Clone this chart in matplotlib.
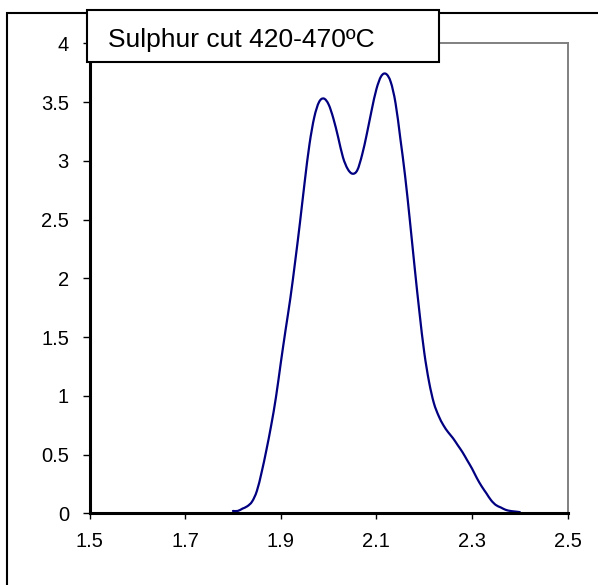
import matplotlib
matplotlib.use("Agg")
import matplotlib.pyplot as plt
from matplotlib.patches import Rectangle, PathPatch
from matplotlib.path import Path

plt.rcParams['font.family'] = ['Liberation Sans', 'DejaVu Sans']

title = "Sulphur cut 420-470ºC"
x_vals = [1.80, 1.81, 1.82, 1.83, 1.84, 1.85, 1.86, 1.87, 1.88, 1.89,
          1.90, 1.91, 1.92, 1.93, 1.94, 1.95, 1.96, 1.97, 1.98, 1.99,
          2.00, 2.01, 2.02, 2.03, 2.04, 2.05, 2.06, 2.07, 2.08, 2.09,
          2.10, 2.11, 2.12, 2.13, 2.14, 2.15, 2.16, 2.17, 2.18, 2.19,
          2.20, 2.21, 2.22, 2.23, 2.24, 2.25, 2.26, 2.27, 2.28, 2.29,
          2.30, 2.31, 2.32, 2.33, 2.34, 2.35, 2.36, 2.37, 2.38, 2.39, 2.40]
y_vals = [0.02, 0.02, 0.04, 0.06, 0.10, 0.19, 0.35, 0.54, 0.75, 0.99,
          1.28, 1.56, 1.83, 2.14, 2.47, 2.82, 3.14, 3.37, 3.50, 3.53,
          3.48, 3.36, 3.20, 3.03, 2.93, 2.89, 2.92, 3.05, 3.23, 3.43,
          3.61, 3.72, 3.74, 3.67, 3.49, 3.19, 2.87, 2.49, 2.09, 1.71,
          1.37, 1.12, 0.94, 0.83, 0.75, 0.69, 0.64, 0.58, 0.52, 0.45,
          0.38, 0.30, 0.23, 0.17, 0.11, 0.07, 0.05, 0.03, 0.02, 0.015, 0.01]
x_ticks = [1.5, 1.7, 1.9, 2.1, 2.3, 2.5]
x_tick_labels = ["1.5", "1.7", "1.9", "2.1", "2.3", "2.5"]
y_ticks = [0, 0.5, 1, 1.5, 2, 2.5, 3, 3.5, 4]
y_tick_labels = ["0", "0.5", "1", "1.5", "2", "2.5", "3", "3.5", "4"]

W, H = 598, 585
fig = plt.figure(figsize=(W / 100, H / 100), dpi=100)
fig.patch.set_facecolor('white')

left, right, top, bottom = 89.5, 567.7, 43.3, 513.3
ax = fig.add_axes([left / W, (H - bottom) / H, (right - left) / W, (bottom - top) / H])


def smooth_path(xs, ys):
    # Excel-style smoothed line: Catmull-Rom through the data points as cubic Beziers
    pts = list(zip(xs, ys))
    n = len(pts)
    verts = [pts[0]]
    codes = [Path.MOVETO]
    for i in range(n - 1):
        p0 = pts[i - 1] if i > 0 else pts[i]
        p1 = pts[i]
        p2 = pts[i + 1]
        p3 = pts[i + 2] if i + 2 < n else pts[i + 1]
        c1 = (p1[0] + (p2[0] - p0[0]) / 6, p1[1] + (p2[1] - p0[1]) / 6)
        c2 = (p2[0] - (p3[0] - p1[0]) / 6, p2[1] - (p3[1] - p1[1]) / 6)
        verts += [c1, c2, p2]
        codes += [Path.CURVE4] * 3
    return Path(verts, codes)


ax.add_patch(PathPatch(smooth_path(x_vals, y_vals), facecolor='none',
                       edgecolor='#000080', lw=1.6, capstyle='round', joinstyle='round'))
ax.set_xlim(1.5, 2.5)
ax.set_ylim(0, 4)
ax.set_xticks(x_ticks)
ax.set_xticklabels(x_tick_labels)
ax.set_yticks(y_ticks)
ax.set_yticklabels(y_tick_labels)

for s in ['left', 'bottom']:
    ax.spines[s].set_color('black')
    ax.spines[s].set_linewidth(2.2)
for s in ['top', 'right']:
    ax.spines[s].set_color('#808080')
    ax.spines[s].set_linewidth(1.4)

ax.tick_params(axis='x', direction='out', length=4.5, width=1.0, pad=9.0,
               labelsize=14.5, colors='black')
ax.tick_params(axis='y', direction='out', length=4.8, width=1.0, pad=10.0,
               labelsize=14.5, colors='black')

# outer frame (extends beyond right/bottom edges)
frame = Rectangle((7.3 / W, -0.2), 1.5, (H - 13.3) / H + 0.2,
                  transform=fig.transFigure, fill=False, edgecolor='black',
                  lw=1.5, clip_on=False, zorder=-1)
fig.add_artist(frame)

# title box
bx0, bx1, by0, by1 = 87, 439, 10, 62
tbox = Rectangle((bx0 / W, 1 - by1 / H), (bx1 - bx0) / W, (by1 - by0) / H,
                 transform=fig.transFigure, facecolor='white', edgecolor='black',
                 lw=1.5, zorder=10)
fig.add_artist(tbox)
fig.text(108 / W, 1 - 47 / H, title, fontsize=19, ha='left', va='baseline',
         color='black', zorder=11)

fig.savefig('out.png', dpi=100)
